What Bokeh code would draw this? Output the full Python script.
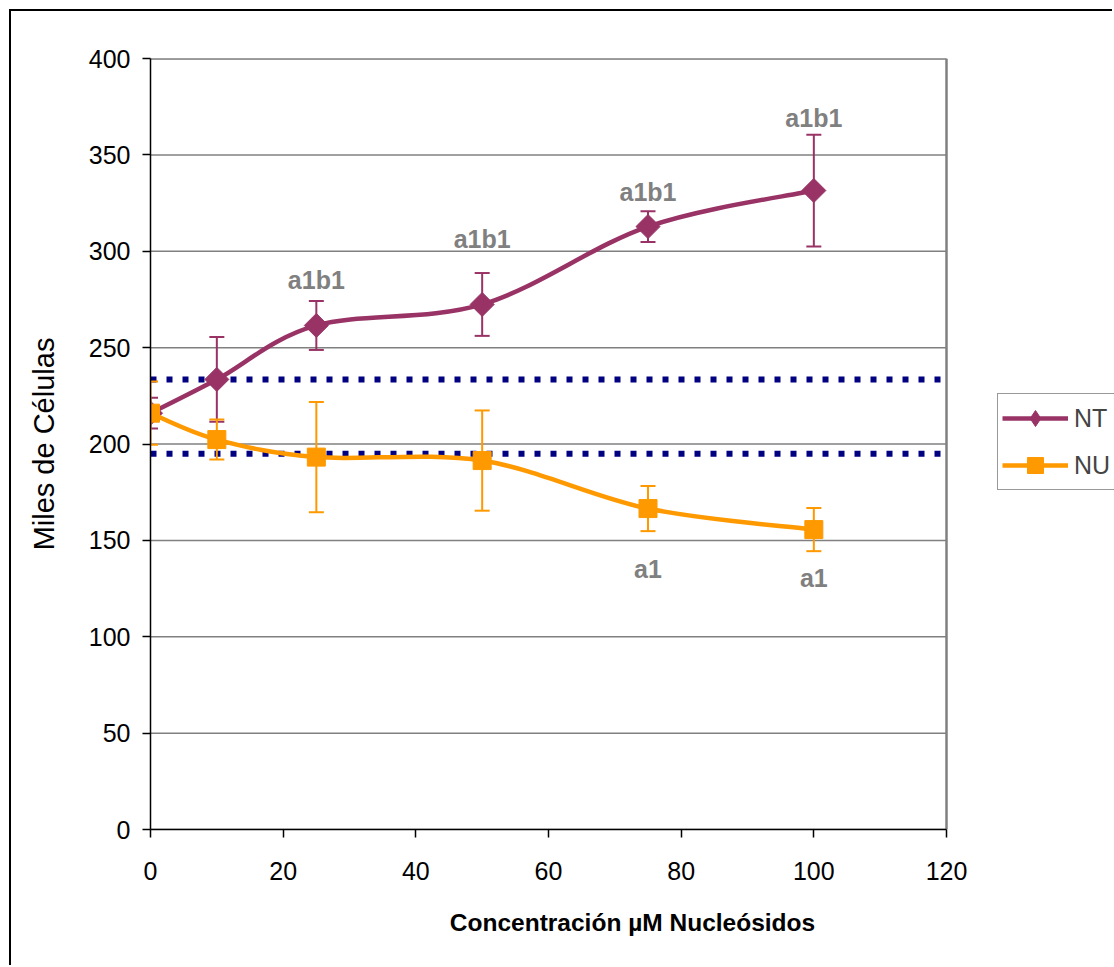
import numpy as np
from bokeh.plotting import figure
from bokeh.models import (Range1d, FixedTicker, Legend, LegendItem,
                          ColumnDataSource, Whisker, TeeHead)
from bokeh.core.properties import value
from bokeh.embed import file_html
from bokeh.resources import INLINE

# ---------------- data ----------------
conc = [0, 10, 25, 50, 75, 100]
nt_mean = [216, 233.5, 261.5, 272.4, 312.8, 331.5]
nt_err = [8, 22, 12.7, 16.3, 8, 29]
nu_mean = [216, 202.3, 193.2, 191.4, 166.5, 155.6]
nu_err = [16.4, 10.4, 28.6, 26, 11.7, 11.2]
ref_levels = [233.5, 195]

nt_label_x = [25, 50, 75, 100]
nt_label_y = [285, 306.5, 330.5, 369]
nt_label_text = ["a1b1", "a1b1", "a1b1", "a1b1"]
nu_label_x = [75, 100]
nu_label_y = [135, 130.7]
nu_label_text = ["a1", "a1"]

x_ticks = [0, 20, 40, 60, 80, 100, 120]
y_ticks = [0, 50, 100, 150, 200, 250, 300, 350, 400]
X_MIN, X_MAX = 0, 120
Y_MIN, Y_MAX = 0, 400

NT_COLOR = "#993366"
NU_COLOR = "#FF9900"
FONT = "Liberation Sans"

# ---------------- layout geometry (pixels) ----------------
W, H = 1103, 956
B_LEFT, B_TOP, B_BOTTOM = 139, 47, 138
PLOT_AREA_PX = 796          # width of the 0..120 plot area
FRAME_PX = W - B_LEFT       # frame reaches the right edge (legend lives there)
X_END = X_MAX * FRAME_PX / PLOT_AREA_PX


def smooth_bezier(x, y):
    """Catmull-Rom style smoothing (like a spreadsheet 'smoothed line')."""
    x = np.asarray(x, float)
    y = np.asarray(y, float)
    n = len(x)
    seg = dict(x0=[], y0=[], x1=[], y1=[], cx0=[], cy0=[], cx1=[], cy1=[])
    for i in range(n - 1):
        i0 = max(i - 1, 0)
        i3 = min(i + 2, n - 1)
        seg["x0"].append(x[i]); seg["y0"].append(y[i])
        seg["x1"].append(x[i + 1]); seg["y1"].append(y[i + 1])
        seg["cx0"].append(x[i] + (x[i + 1] - x[i0]) / 6)
        seg["cy0"].append(y[i] + (y[i + 1] - y[i0]) / 6)
        seg["cx1"].append(x[i + 1] - (x[i3] - x[i]) / 6)
        seg["cy1"].append(y[i + 1] - (y[i3] - y[i]) / 6)
    return ColumnDataSource(seg)


p = figure(width=W, height=H, x_range=Range1d(X_MIN, X_END), y_range=Range1d(Y_MIN, Y_MAX),
           output_backend="svg", toolbar_location=None,
           min_border_left=B_LEFT, min_border_right=0,
           min_border_top=B_TOP, min_border_bottom=B_BOTTOM)
p.styles = {"margin-left": "9px", "margin-top": "9px",
            "border-left": "2px solid black", "border-top": "2px solid black"}

p.background_fill_color = "white"
p.border_fill_color = "white"
p.outline_line_color = None
p.xgrid.visible = False
p.ygrid.visible = False

for ax in (p.xaxis[0], p.yaxis[0]):
    ax.axis_line_color = "black"
    ax.axis_line_width = 1.5
    ax.major_tick_line_color = "black"
    ax.major_tick_line_width = 1.5
    ax.major_tick_in = 0
    ax.major_tick_out = 8
    ax.minor_tick_line_color = None
    ax.major_label_text_font = FONT
    ax.major_label_text_font_size = "25px"
    ax.major_label_text_color = "black"
    ax.axis_label_text_font = FONT
    ax.axis_label_text_color = "black"

p.xaxis.bounds = (X_MIN, X_MAX)
p.xaxis.ticker = FixedTicker(ticks=x_ticks)
p.yaxis.ticker = FixedTicker(ticks=y_ticks)
p.xaxis.major_label_standoff = 24
p.yaxis.major_label_standoff = 12
p.xaxis.axis_label = "Concentración µM Nucleósidos"
p.xaxis.axis_label_text_font_style = "bold"
p.xaxis.axis_label_text_font_size = "24.5px"
p.xaxis.axis_label_standoff = 26
p.yaxis.axis_label = "Miles de Células"
p.yaxis.axis_label_text_font_style = "normal"
p.yaxis.axis_label_text_font_size = "29px"
p.yaxis.axis_label_standoff = 26

# horizontal gridlines limited to the plot area
p.segment(x0=[X_MIN] * len(y_ticks), x1=[X_MAX] * len(y_ticks), y0=y_ticks, y1=y_ticks,
          line_color="#808080", line_width=1.5)
# plot-area right and top edges (gray)
p.segment(x0=[X_MAX, X_MIN], y0=[Y_MIN, Y_MAX], x1=[X_MAX, X_MAX], y1=[Y_MAX, Y_MAX],
          line_color="#808080", line_width=2.5)

# reference dotted lines
p.segment(x0=[X_MIN] * len(ref_levels), x1=[X_MAX] * len(ref_levels),
          y0=ref_levels, y1=ref_levels, line_color="#000080",
          line_width=6, line_dash="6 10")

for mean, err, color, msize, angle in (
        (nt_mean, nt_err, NT_COLOR, 17, np.pi / 4),
        (nu_mean, nu_err, NU_COLOR, 18, 0.0)):
    src = ColumnDataSource(dict(x=conc, y=mean,
                                upper=[m + e for m, e in zip(mean, err)],
                                lower=[m - e for m, e in zip(mean, err)]))
    w = Whisker(source=src, base="x", upper="upper", lower="lower",
                line_color=color, line_width=2, level="glyph",
                upper_head=TeeHead(size=15, line_color=color, line_width=2),
                lower_head=TeeHead(size=15, line_color=color, line_width=2))
    p.add_layout(w)
    p.bezier(x0="x0", y0="y0", x1="x1", y1="y1", cx0="cx0", cy0="cy0",
             cx1="cx1", cy1="cy1", source=smooth_bezier(conc, mean),
             line_color=color, line_width=4.5)
    p.scatter(x="x", y="y", source=src, marker="square", size=msize, angle=angle,
              fill_color=color, line_color=color)

# data labels
p.text(x=nt_label_x, y=nt_label_y, text=nt_label_text, text_align="center",
       text_baseline="middle", text_color="#808080", text_font=value(FONT),
       text_font_style="bold", text_font_size="25px")
p.text(x=nu_label_x, y=nu_label_y, text=nu_label_text, text_align="center",
       text_baseline="middle", text_color="#808080", text_font=value(FONT),
       text_font_style="bold", text_font_size="25px")

# legend proxies (placeholder rows, never visible in the plot area)
nan1 = [np.nan]
nt_leg_line = p.line(x=nan1, y=nan1, line_color=NT_COLOR, line_width=4.5)
nt_leg_mark = p.scatter(x=nan1, y=nan1, marker="diamond", fill_color=NT_COLOR,
                        line_color=NT_COLOR)
nu_leg_line = p.line(x=nan1, y=nan1, line_color=NU_COLOR, line_width=4.5)
nu_leg_mark = p.scatter(x=nan1, y=nan1, marker="square", fill_color=NU_COLOR,
                        line_color=NU_COLOR)

legend = Legend(items=[LegendItem(label="NT", renderers=[nt_leg_line, nt_leg_mark]),
                       LegendItem(label="NU", renderers=[nu_leg_line, nu_leg_mark])],
                location=(847, 339))
legend.glyph_width = 66
legend.glyph_height = 40
legend.spacing = 7
legend.padding = 4
legend.margin = 0
legend.label_standoff = 6
legend.label_text_font = FONT
legend.label_text_font_size = "25px"
legend.border_line_color = "#333333"
legend.border_line_width = 1.5
legend.background_fill_color = "white"
legend.background_fill_alpha = 1
p.add_layout(legend, "center")

open("out.html", "w").write(file_html(p, INLINE))
